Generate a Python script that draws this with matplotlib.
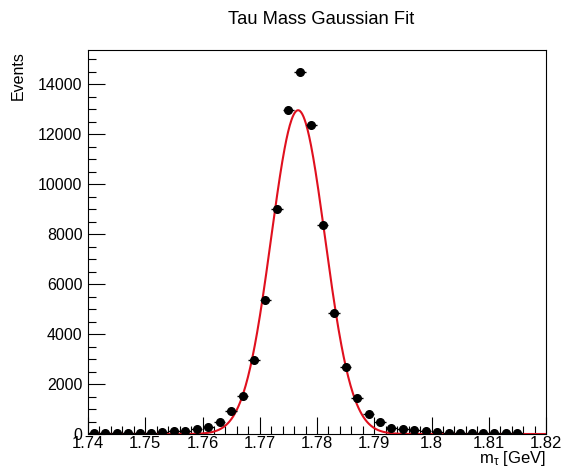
#!/usr/bin/env python3

import numpy as np
import matplotlib
matplotlib.use("Agg")
import matplotlib.pyplot as plt
from matplotlib.ticker import MultipleLocator, FormatStrFormatter

plt.rcParams["font.family"] = ["Liberation Sans", "DejaVu Sans"]
plt.rcParams["mathtext.default"] = "regular"

# bin centres (GeV) and counts
mass_bins = [1.741, 1.743, 1.745, 1.747, 1.749, 1.751, 1.753, 1.755, 1.757, 1.759,
             1.761, 1.763, 1.765, 1.767, 1.769, 1.771, 1.773, 1.775, 1.777, 1.779,
             1.781, 1.783, 1.785, 1.787, 1.789, 1.791, 1.793, 1.795, 1.797, 1.799,
             1.801, 1.803, 1.805, 1.807, 1.809, 1.811, 1.813, 1.815]
counts = [30, 30, 35, 35, 40, 50, 65, 105, 135, 215,
          295, 500, 905, 1530, 2960, 5380, 8990, 12980, 14480, 12370,
          8360, 4840, 2700, 1430, 790, 465, 255, 185, 145, 105,
          80, 55, 45, 40, 35, 30, 30, 25]
bin_width = 0.002

# gaussian fit parameters
fit_amp = 12950
fit_mean = 1.7767
fit_sigma = 0.0047

x_range = (1.74, 1.82)

fig = plt.figure(figsize=(5.64, 4.68), dpi=100)
ax = fig.add_axes([88 / 564, 1 - 434 / 468, 458 / 564, 384 / 468])

ax.errorbar(mass_bins, counts, xerr=bin_width / 2, yerr=np.sqrt(counts),
            fmt="o", color="black", markersize=5.5, elinewidth=1, capsize=0,
            zorder=3)

xs = np.linspace(x_range[0], x_range[1], 800)
ax.plot(xs, fit_amp * np.exp(-0.5 * ((xs - fit_mean) / fit_sigma) ** 2),
        color="#e0101e", linewidth=1.5, zorder=2)

ax.set_xlim(*x_range)
ax.set_ylim(0, 15360)

ax.xaxis.set_major_locator(MultipleLocator(0.01))
ax.xaxis.set_minor_locator(MultipleLocator(0.002))
ax.xaxis.set_major_formatter(FormatStrFormatter("%g"))
ax.yaxis.set_major_locator(MultipleLocator(2000))
ax.yaxis.set_minor_locator(MultipleLocator(500))

ax.tick_params(which="both", direction="in", top=False, right=False,
               width=0.8)
ax.tick_params(which="major", length=12)
ax.tick_params(which="minor", length=6)
ax.tick_params(axis="x", labelsize=12, pad=1.5)
ax.tick_params(axis="y", labelsize=11.5, pad=4)
for s in ax.spines.values():
    s.set_linewidth(0.8)

fig.text(321 / 564, 1 - 20 / 468, "Tau Mass Gaussian Fit", ha="center",
         va="center", fontsize=13.2)
fig.text(546 / 564, 1 - 459 / 468, r"$m_{\tau}$ [GeV]", ha="right",
         va="center", fontsize=12)
fig.text(18 / 564, 1 - 51 / 468, "Events", ha="center", va="top",
         rotation=90, fontsize=11.5)

fig.savefig("out.png", dpi=100)
